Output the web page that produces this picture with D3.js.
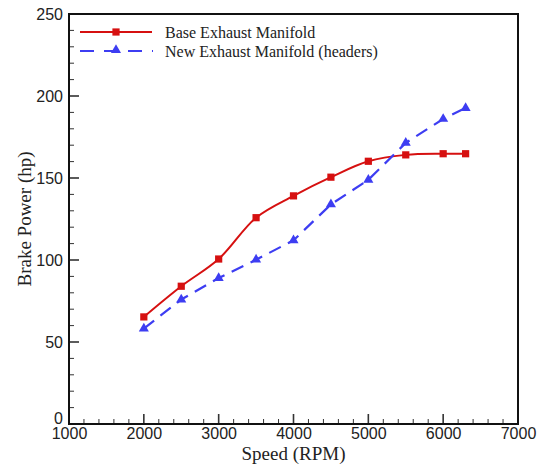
<!DOCTYPE html>
<html><head><meta charset="utf-8">
<script src="https://cdn.jsdelivr.net/npm/d3@7"></script>
<style>body{margin:0;background:#fff}svg{display:block}</style>
</head><body>
<script>
const speeds = [2000, 2500, 3000, 3500, 4000, 4500, 5000, 5500, 6000, 6300];
const baseManifold = [65.3, 84, 100.6, 125.8, 139.1, 150.5, 160.2, 164.1, 164.8, 164.8];
const newManifold = [58.2, 75.9, 89, 100.2, 112, 133.9, 148.9, 171.4, 186, 192.7];
const seriesNames = ["Base Exhaust Manifold", "New Exhaust Manifold (headers)"];
const xTicks = [1000, 2000, 3000, 4000, 5000, 6000, 7000];
const yTicks = [0, 50, 100, 150, 200, 250];

const W = 540, H = 466;
const m = {l: 69, r: 22, t: 14, b: 42};
const svg = d3.select("body").append("svg").attr("width", W).attr("height", H);
const x = d3.scaleLinear().domain([1000, 7000]).range([m.l, W - m.r]);
const y = d3.scaleLinear().domain([0, 250]).range([H - m.b, m.t]);
const ink = "#111";
const tickFont = "'Liberation Sans', Arial, sans-serif";
const serif = "'Liberation Serif', 'Times New Roman', serif";

// minor/major tick marks
const xMinor = d3.range(1000, 7001, 200);
const yMinor = d3.range(0, 251, 10);
svg.append("g").selectAll("line").data(xMinor).join("line")
  .attr("x1", d => x(d)).attr("x2", d => x(d))
  .attr("y1", y(0)).attr("y2", d => y(0) - (d % 1000 === 0 ? 10 : 5))
  .attr("stroke", "#333").attr("stroke-width", d => d % 1000 === 0 ? 1.6 : 1);
svg.append("g").selectAll("line").data(yMinor).join("line")
  .attr("y1", d => y(d)).attr("y2", d => y(d))
  .attr("x1", x(1000)).attr("x2", d => x(1000) + (d % 50 === 0 ? 10 : 5))
  .attr("stroke", "#333").attr("stroke-width", d => d % 50 === 0 ? 1.6 : 1);

// frame
svg.append("rect").attr("x", x(1000)).attr("y", y(250))
  .attr("width", x(7000) - x(1000)).attr("height", y(0) - y(250))
  .attr("fill", "none").attr("stroke", ink).attr("stroke-width", 2);

// tick labels via axes
const xAxis = svg.append("g").attr("transform", `translate(0,${y(0)})`)
  .call(d3.axisBottom(x).tickValues(xTicks).tickSize(0).tickPadding(4).tickFormat(d3.format("d")));
xAxis.select(".domain").remove();
xAxis.selectAll("text").attr("font-family", tickFont).attr("font-size", 16).attr("fill", "#222");
const yAxis = svg.append("g").attr("transform", `translate(${x(1000)},0)`)
  .call(d3.axisLeft(y).tickValues(yTicks).tickSize(0).tickPadding(6).tickFormat(d3.format("d")));
yAxis.select(".domain").remove();
yAxis.selectAll("text").attr("font-family", tickFont).attr("font-size", 16).attr("fill", "#222");
yAxis.selectAll(".tick").filter(d => d === 0).select("text").attr("dy", "-0.02em");

// axis titles
svg.append("text").attr("x", (x(1000) + x(7000)) / 2).attr("y", 460)
  .attr("text-anchor", "middle").attr("font-family", serif).attr("font-size", 19).attr("fill", "#222")
  .text("Speed (RPM)");
svg.append("text").attr("transform", `translate(31,${(y(0) + y(250)) / 2}) rotate(-90)`)
  .attr("text-anchor", "middle").attr("font-family", serif).attr("font-size", 19).attr("fill", "#222")
  .text("Brake Power (hp)");

const red = "#d61010", blue = "#3d3df2";
const pts1 = speeds.map((s, i) => [s, baseManifold[i]]);
const pts2 = speeds.map((s, i) => [s, newManifold[i]]);

svg.append("path").datum(pts1)
  .attr("d", d3.line().x(d => x(d[0])).y(d => y(d[1])).curve(d3.curveCatmullRom.alpha(0.5)))
  .attr("fill", "none").attr("stroke", red).attr("stroke-width", 2);
svg.append("path").datum(pts2)
  .attr("d", d3.line().x(d => x(d[0])).y(d => y(d[1])))
  .attr("fill", "none").attr("stroke", blue).attr("stroke-width", 2.2).attr("stroke-dasharray", "13,8");

const sq = d3.symbol().type(d3.symbolSquare).size(52);
const tri = d3.symbol().type(d3.symbolTriangle).size(44);
svg.append("g").selectAll("path").data(pts1).join("path")
  .attr("transform", d => `translate(${x(d[0])},${y(d[1])})`).attr("d", sq).attr("fill", red);
svg.append("g").selectAll("path").data(pts2).join("path")
  .attr("transform", d => `translate(${x(d[0])},${y(d[1])})`).attr("d", tri).attr("fill", blue);

// legend
const lg = svg.append("g");
lg.append("line").attr("x1", 80).attr("x2", 152).attr("y1", 32).attr("y2", 32)
  .attr("stroke", red).attr("stroke-width", 2);
lg.append("path").attr("transform", "translate(116,32)").attr("d", sq).attr("fill", red);
lg.append("line").attr("x1", 80).attr("x2", 153).attr("y1", 51).attr("y2", 51)
  .attr("stroke", blue).attr("stroke-width", 2.2).attr("stroke-dasharray", "14,10");
lg.append("path").attr("transform", "translate(116,50)").attr("d", tri).attr("fill", blue);
lg.selectAll("text").data(seriesNames).join("text")
  .attr("x", 165).attr("y", (d, i) => 32 + i * 19).attr("dy", "0.35em")
  .attr("font-family", serif).attr("font-size", 16).attr("fill", "#222").text(d => d);
</script>
</body></html>
